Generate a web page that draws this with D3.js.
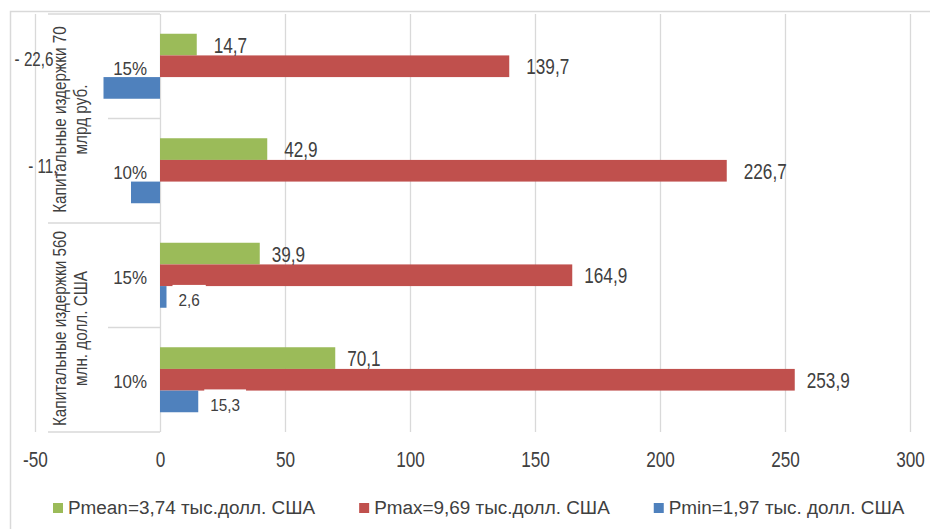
<!DOCTYPE html>
<html>
<head>
<meta charset="utf-8">
<script src="https://cdn.jsdelivr.net/npm/d3@7"></script>
<style>
  body { margin: 0; background: #fff; }
  text { font-family: "Liberation Sans", Arial, sans-serif; fill: #404040; }
</style>
</head>
<body>
<div id="chart"></div>
<script>
// chart values
var groupLines = [["Капитальные издержки 70", "млрд руб."], ["Капитальные издержки 560", "млн. долл. США"]];
var rates = ["15%", "10%", "15%", "10%"];
var pMean = [14.7, 42.9, 39.9, 70.1];
var pMax = [139.7, 226.7, 164.9, 253.9];
var pMin = [-22.6, -11.6, 2.6, 15.3];
var seriesNames = ["Pmean=3,74 тыс.долл. США", "Pmax=9,69 тыс.долл. США", "Pmin=1,97 тыс. долл. США"];
var xTicks = [-50, 0, 50, 100, 150, 200, 250, 300];

var colors = ["#9BBB59", "#C0504D", "#4F81BD"];
var grid = "#d9d9d9";
var W = 930, H = 529;

// squeeze text horizontally (the source uses a narrow face)
function fit(sel, k)
{
	sel.each(function()
	{
		var w = this.getComputedTextLength();
		d3.select(this).attr("textLength", w * k).attr("lengthAdjust", "spacingAndGlyphs");
	});
}

function fmt(v)
{
	var s = Math.abs(v).toFixed(1).replace(".", ",");
	return v < 0 ? "- " + s : s;
}

var svg = d3.select("#chart").append("svg")
	.attr("width", W)
	.attr("height", H);

var plotTop = 14, plotBottom = 432;

var x = d3.scaleLinear()
	.domain([-50, 300])
	.range([35, 910]);

var y = d3.scaleBand()
	.domain(d3.range(rates.length))
	.range([plotTop, plotBottom])
	.paddingInner(0.378)
	.paddingOuter(0.189);

var ys = d3.scaleBand()
	.domain([0, 1, 2])
	.range([0, y.bandwidth()]);

//chart border
svg.append("path")
	.attr("d", "M10.5," + H + "V11.5H" + W)
	.attr("fill", "none")
	.attr("stroke", grid)
	.attr("stroke-width", 1.5);

//X axis with gridlines
var axisX = svg.append("g")
	.attr("transform", "translate(0," + plotBottom + ")")
	.call(d3.axisBottom(x)
		.tickValues(xTicks)
		.tickSize(-(plotBottom - plotTop))
		.tickPadding(19)
		.tickFormat(function(d) { return d; }));

axisX.select(".domain").remove();
axisX.selectAll("line").attr("stroke", grid).attr("stroke-width", 1.3);
axisX.selectAll("text")
	.attr("font-size", 22)
	.attr("font-family", null)
	.attr("fill", "#404040")
	.call(fit, 0.78);

//category axis structure
var step = y.step();
var gcat = svg.append("g");
[0, 2, 4].forEach(function(i)
{
	var yy = plotTop + i * step;
	gcat.append("line")
		.attr("x1", 48).attr("x2", x(0))
		.attr("y1", yy).attr("y2", yy)
		.attr("stroke", grid).attr("stroke-width", 1.3);
});
[1, 3].forEach(function(i)
{
	var yy = plotTop + i * step;
	gcat.append("line")
		.attr("x1", 108).attr("x2", x(0))
		.attr("y1", yy).attr("y2", yy)
		.attr("stroke", grid).attr("stroke-width", 1.3);
});

//bars
var series = [pMean, pMax, pMin];
series.forEach(function(vals, s)
{
	svg.append("g").selectAll("rect")
		.data(vals)
		.join("rect")
		.attr("x", function(d) { return x(Math.min(0, d)); })
		.attr("width", function(d) { return Math.abs(x(d) - x(0)); })
		.attr("y", function(d, i) { return y(i) + ys(s); })
		.attr("height", ys.bandwidth())
		.attr("fill", colors[s]);
});

//labels for green and red bars
var gl = svg.append("g");
[pMean, pMax].forEach(function(vals, s)
{
	gl.selectAll(null)
		.data(vals)
		.join("text")
		.attr("x", function(d, i) { return x(d) + (i < 2 ? 17 : 12); })
		.attr("y", function(d, i) { return y(i) + ys(s) + ys.bandwidth() / 2; })
		.attr("dy", "0.36em")
		.attr("font-size", 22)
		.text(fmt)
		.call(fit, 0.78);
});

//labels for blue bars
pMin.forEach(function(d, i)
{
	var cy = y(i) + ys(2) + ys.bandwidth() / 2;
	if(d < 0)
	{
		var shift = i == 0 ? [-50, -29] : [-65, -27];
		gl.append("text")
			.attr("x", x(d) + shift[0])
			.attr("y", cy + shift[1])
			.attr("dy", "0.36em")
			.attr("text-anchor", "end")
			.attr("font-size", 20)
			.text(fmt(d))
			.call(fit, 0.76);
	}
	else
	{
		var box = gl.append("rect").attr("fill", "#fff");
		var t = gl.append("text")
			.attr("x", x(d) + 12)
			.attr("y", cy + 3)
			.attr("dy", "0.36em")
			.attr("font-size", 17)
			.text(fmt(d))
			.call(fit, 0.9);
		var w = +t.attr("textLength");
		box.attr("x", x(d) + 6)
			.attr("width", w + 12)
			.attr("y", cy - 12)
			.attr("height", 30);
	}
});

//rate labels
svg.append("g").selectAll("text")
	.data(rates)
	.join("text")
	.attr("x", 147)
	.attr("y", function(d, i) { return y(i) + y.bandwidth() / 2 + 2; })
	.attr("dy", "0.36em")
	.attr("text-anchor", "end")
	.attr("font-size", 18)
	.text(function(d) { return d; })
	.call(fit, 0.94);

//group labels, rotated
groupLines.forEach(function(lines, g)
{
	var cy = plotTop + (2 * g + 1) * step + 1;
	var gg = svg.append("g")
		.attr("transform", "translate(0," + cy + ") rotate(-90)");
	lines.forEach(function(line, j)
	{
		var bx = [66, 86.5][j];
		var bg = gg.append("rect").attr("fill", "#fff");
		var t = gg.append("text")
			.attr("x", 0)
			.attr("y", bx)
			.attr("text-anchor", "middle")
			.attr("font-size", 18)
			.text(line)
			.call(fit, 0.85);
		var b = t.node().getBBox();
		bg.attr("x", b.x).attr("y", b.y + 6).attr("width", b.width).attr("height", b.height - 7);
	});
});

//legend
var leg = svg.append("g");
var lx = 53;
seriesNames.forEach(function(name, s)
{
	leg.append("rect")
		.attr("x", lx)
		.attr("y", 503)
		.attr("width", 10)
		.attr("height", 10)
		.attr("fill", colors[s]);
	var t = leg.append("text")
		.attr("x", lx + 15)
		.attr("y", 514)
		.attr("font-size", 18)
		.text(name)
		.call(fit, 1.05);
	lx += 15 + (+t.attr("textLength")) + 44;
});
</script>
</body>
</html>
